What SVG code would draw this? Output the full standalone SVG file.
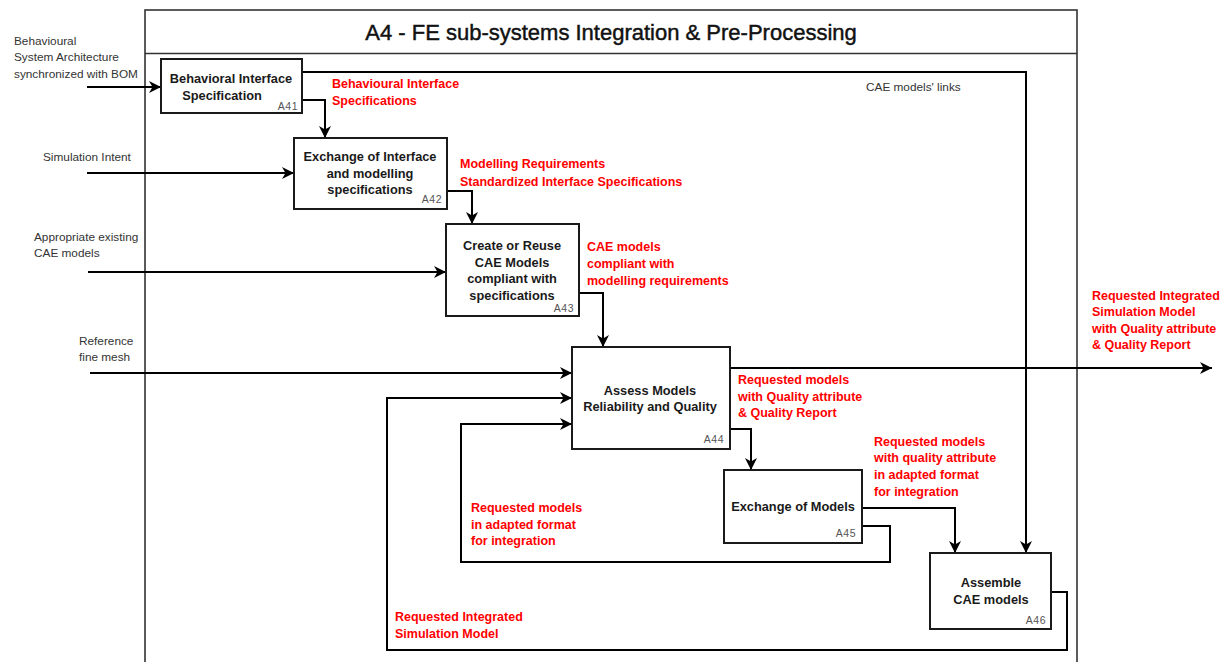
<svg xmlns="http://www.w3.org/2000/svg" width="1230" height="662" viewBox="0 0 1230 662">
<style>
.frame{fill:none;stroke:#333;stroke-width:1.6}
.box{fill:#fff;stroke:#1a1a1a;stroke-width:2}
.lbl{font-family:"Liberation Sans",Arial,sans-serif;font-size:12.8px;font-weight:bold;fill:#1a1a1a;text-anchor:middle}
.num{font-family:"Liberation Sans",Arial,sans-serif;font-size:10.5px;fill:#555;text-anchor:end;letter-spacing:0.5px}
.red{font-family:"Liberation Sans",Arial,sans-serif;font-size:12.5px;font-weight:bold;fill:#ff0000}
.in{font-family:"Liberation Sans",Arial,sans-serif;font-size:11.8px;fill:#333}
.c{fill:none;stroke:#000;stroke-width:2}
.title{font-family:"Liberation Sans",Arial,sans-serif;font-size:22px;fill:#111;stroke:#111;stroke-width:0.45;text-anchor:middle}
</style>
<defs>
<marker id="ah" markerUnits="userSpaceOnUse" markerWidth="13" markerHeight="12" refX="12" refY="6" orient="auto">
<path d="M0,0 L12,6 L0,12 L3.5,6 Z" fill="#000"/>
</marker>
</defs>
<rect width="1230" height="662" fill="#fff"/>
<g id="frame">
<rect class="frame" x="145" y="10" width="932" height="670"/>
<line class="frame" x1="145" y1="53.5" x2="1077" y2="53.5"/>
<text class="title" x="611" y="40">A4 - FE sub-systems Integration &amp; Pre-Processing</text>
</g>
<g id="connectors">
<path class="c" d="M87,87 H161" marker-end="url(#ah)"/>
<path class="c" d="M302,100 H325 V138" marker-end="url(#ah)"/>
<path class="c" d="M302,72 H1026 V553" marker-end="url(#ah)"/>
<path class="c" d="M87,173 H294" marker-end="url(#ah)"/>
<path class="c" d="M447,191 H472 V224" marker-end="url(#ah)"/>
<path class="c" d="M88,272 H446" marker-end="url(#ah)"/>
<path class="c" d="M579,293 H603 V347" marker-end="url(#ah)"/>
<path class="c" d="M90,373 H572" marker-end="url(#ah)"/>
<path class="c" d="M730,368 H1212" marker-end="url(#ah)"/>
<path class="c" d="M730,429 H751 V470" marker-end="url(#ah)"/>
<path class="c" d="M862,508 H955 V553" marker-end="url(#ah)"/>
<path class="c" d="M862,526 H890 V562 H461 V424 H572" marker-end="url(#ah)"/>
<path class="c" d="M1051,592 H1067 V650 H387 V398 H572" marker-end="url(#ah)"/>
</g>
<g id="inputs">
<text class="in" x="14" y="45">Behavioural</text>
<text class="in" x="14" y="61">System Architecture</text>
<text class="in" x="14" y="78">synchronized with BOM</text>
<text class="in" x="43" y="161">Simulation Intent</text>
<text class="in" x="34" y="241">Appropriate existing</text>
<text class="in" x="34" y="257">CAE models</text>
<text class="in" x="79" y="345">Reference</text>
<text class="in" x="79" y="361">fine mesh</text>
<text class="in" x="866" y="91" fill="#222">CAE models' links</text>
</g>
<g id="A41">
<rect class="box" x="161" y="59" width="141" height="54"/>
<text class="lbl" x="231" y="83">Behavioral Interface</text>
<text class="lbl" x="222" y="100">Specification</text>
<text class="num" x="298" y="110">A41</text>
</g>
<g id="A42">
<rect class="box" x="294" y="138" width="153" height="71"/>
<text class="lbl" x="370" y="161">Exchange of Interface</text>
<text class="lbl" x="370" y="178">and modelling</text>
<text class="lbl" x="370" y="194">specifications</text>
<text class="num" x="442" y="203">A42</text>
</g>
<g id="A43">
<rect class="box" x="446" y="224" width="133" height="92"/>
<text class="lbl" x="512" y="250">Create or Reuse</text>
<text class="lbl" x="512" y="267">CAE Models</text>
<text class="lbl" x="512" y="283">compliant with</text>
<text class="lbl" x="512" y="300">specifications</text>
<text class="num" x="574" y="312">A43</text>
</g>
<g id="A44">
<rect class="box" x="572" y="347" width="158" height="102"/>
<text class="lbl" x="650" y="395">Assess Models</text>
<text class="lbl" x="650" y="411">Reliability and Quality</text>
<text class="num" x="724" y="443">A44</text>
</g>
<g id="A45">
<rect class="box" x="724" y="470" width="138" height="73"/>
<text class="lbl" x="793" y="511">Exchange of Models</text>
<text class="num" x="856" y="537">A45</text>
</g>
<g id="A46">
<rect class="box" x="930" y="553" width="121" height="76"/>
<text class="lbl" x="991" y="587">Assemble</text>
<text class="lbl" x="991" y="604">CAE models</text>
<text class="num" x="1046" y="624">A46</text>
</g>
<g id="labels">
<text class="red" x="332" y="88">Behavioural Interface</text>
<text class="red" x="332" y="105">Specifications</text>
<text class="red" x="460" y="168">Modelling Requirements</text>
<text class="red" x="460" y="186">Standardized Interface Specifications</text>
<text class="red" x="587" y="251">CAE models</text>
<text class="red" x="587" y="268">compliant with</text>
<text class="red" x="587" y="285">modelling requirements</text>
<text class="red" x="738" y="384">Requested models</text>
<text class="red" x="738" y="401">with Quality attribute</text>
<text class="red" x="738" y="417">&amp; Quality Report</text>
<text class="red" x="874" y="446">Requested models</text>
<text class="red" x="874" y="462">with quality attribute</text>
<text class="red" x="874" y="479">in adapted format</text>
<text class="red" x="874" y="496">for integration</text>
<text class="red" x="1092" y="300">Requested Integrated</text>
<text class="red" x="1092" y="316">Simulation Model</text>
<text class="red" x="1092" y="333">with Quality attribute</text>
<text class="red" x="1092" y="349">&amp; Quality Report</text>
<text class="red" x="471" y="512">Requested models</text>
<text class="red" x="471" y="529">in adapted format</text>
<text class="red" x="471" y="545">for integration</text>
<text class="red" x="395" y="621">Requested Integrated</text>
<text class="red" x="395" y="638">Simulation Model</text>
</g>
</svg>
